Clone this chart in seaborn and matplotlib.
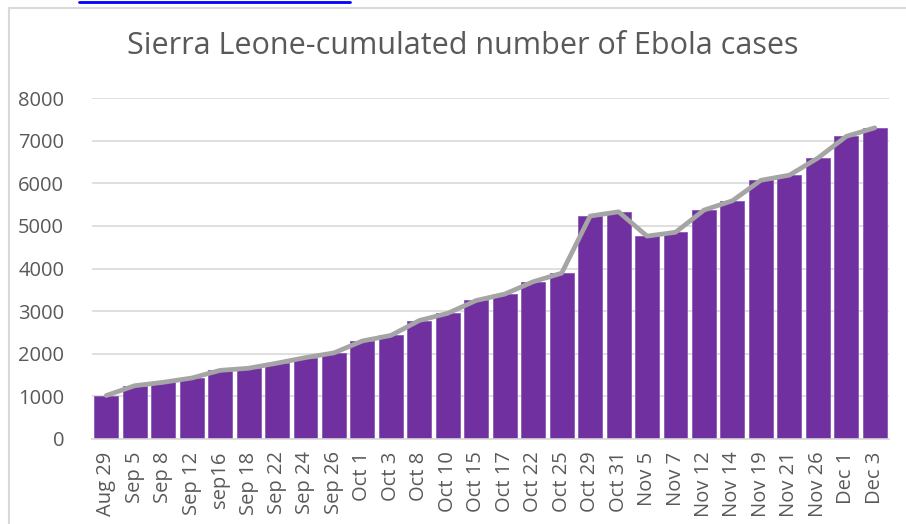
#!/usr/bin/env python3

import numpy as np
import matplotlib
matplotlib.use("Agg")
import matplotlib.pyplot as plt
from matplotlib.patches import Rectangle
from matplotlib.lines import Line2D
import seaborn as sns

dates = ["Aug 29", "Sep 5", "Sep 8", "Sep 12", "sep16", "Sep 18", "Sep 22",
         "Sep 24", "Sep 26", "Oct 1", "Oct 3", "Oct 8", "Oct 10", "Oct 15",
         "Oct 17", "Oct 22", "Oct 25", "Oct 29", "Oct 31", "Nov 5", "Nov 7",
         "Nov 12", "Nov 14", "Nov 19", "Nov 21", "Nov 26", "Dec 1", "Dec 3"]
cases = [1020, 1250, 1330, 1430, 1610, 1660, 1780, 1910, 2020, 2300, 2430,
         2780, 2950, 3250, 3400, 3690, 3890, 5230, 5330, 4760, 4850, 5370,
         5590, 6070, 6190, 6590, 7100, 7300]
yticks = [0, 1000, 2000, 3000, 4000, 5000, 6000, 7000, 8000]

PURPLE = "#7030A0"
GREY = "#A5A5A5"
TEXT = "#595959"


def main():
    sns.set_style("white")
    plt.rcParams['font.family'] = ['Open Sans', 'DejaVu Sans']

    fig = plt.figure(figsize=(9.06, 5.24), dpi=100)
    ax = fig.add_axes([92 / 906, 1 - 439 / 524, (889 - 92) / 906, (439 - 98) / 524])

    # outer chart frame and the cut-off hyperlink above it
    fig.patches.append(Rectangle((9 / 906, -0.1), 1.2, 1 - 8 / 524 + 0.1,
                                 transform=fig.transFigure, fill=False,
                                 edgecolor="#D9D9D9", linewidth=1.5))
    fig.lines.append(Line2D([79 / 906, 350 / 906], [1 - 2 / 524, 1 - 2 / 524],
                            transform=fig.transFigure, color="#0000FF", linewidth=2))

    sns.barplot(x=dates, y=cases, color=PURPLE, saturation=1, width=0.84,
                edgecolor="#8A5BB5", linewidth=0.6, ax=ax, zorder=2)
    sns.lineplot(x=np.arange(len(dates)), y=cases, color=GREY, linewidth=3.4,
                 ax=ax, zorder=3)

    ax.set_xlim(-0.5, len(dates) - 0.5)
    ax.set_ylim(0, 8000)
    ax.set_yticks(yticks)
    ax.set_yticklabels([str(v) for v in yticks])
    ax.set_xticks(range(len(dates)))
    ax.set_xticklabels(dates, rotation=90)
    ax.yaxis.grid(True, color="#D9D9D9", linewidth=1.2, zorder=0)
    ax.set_axisbelow(True)
    for side in ["top", "right", "left"]:
        ax.spines[side].set_visible(False)
    ax.spines["bottom"].set_color("#D9D9D9")
    ax.spines["bottom"].set_linewidth(1.2)
    ax.tick_params(axis="y", length=0, labelsize=14.5, colors=TEXT, pad=20)
    ax.tick_params(axis="x", length=0, labelsize=14.5, colors=TEXT, pad=9)
    ax.set_xlabel("")
    ax.set_ylabel("")

    fig.text(463 / 906, 1 - 46 / 524, "Sierra Leone-cumulated number of Ebola cases",
             ha="center", va="center", fontsize=22, color=TEXT)

    fig.savefig("out.png", dpi=100)
    plt.close(fig)


if __name__ == "__main__":
    main()
